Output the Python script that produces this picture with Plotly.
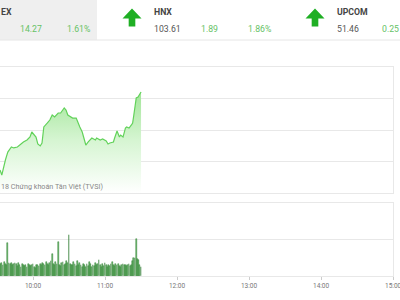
import plotly.graph_objects as go

DAY = "2018-01-01 "

# Header values
idx_names = ["EX", "HNX", "UPCOM"]
idx_values = ["", "103.61", "51.46"]
idx_changes = ["14.27", "1.89", "0.25"]
idx_pcts = ["1.61%", "1.86%", ""]

# Intraday index line
price_times = ["09:32:30", "09:34", "09:37", "09:39", "09:42", "09:44", "09:47", "09:49", "09:52", "09:55",
               "09:57:30", "09:59", "10:01", "10:02:30", "10:04", "10:06", "10:07:30", "10:09", "10:12", "10:14",
               "10:16", "10:18", "10:21", "10:23", "10:26", "10:27:30", "10:29", "10:31", "10:33", "10:36",
               "10:37:30", "10:39", "10:41", "10:42:30", "10:44", "10:46", "10:47:30", "10:49", "10:52", "10:53",
               "10:56", "10:58", "11:01", "11:02:30", "11:04", "11:07", "11:08", "11:10", "11:12", "11:13",
               "11:15", "11:17", "11:18", "11:20", "11:22", "11:23", "11:24", "11:25", "11:26", "11:27:30",
               "11:29", "11:30"]
price_values = [893.19, 892.71, 894.14, 894.90, 895.38, 895.29, 895.38, 895.57, 895.86, 896.05,
                896.33, 896.81, 896.52, 896.33, 895.67, 895.48, 895.76, 897.29, 897.67, 897.95,
                898.43, 898.24, 898.62, 898.62, 899.10, 898.90, 898.43, 898.24, 898.14, 898.14,
                897.67, 897.29, 896.81, 896.24, 895.57, 895.86, 896.05, 896.24, 896.05, 896.24,
                896.05, 896.14, 895.95, 895.67, 895.76, 895.86, 896.24, 896.90, 896.33, 896.52,
                896.33, 897.19, 897.29, 897.19, 897.48, 897.67, 898.43, 899.57, 900.05, 900.14,
                900.52, 900.62]

# Volume per minute (thousand shares), 09:33 .. 11:30
vol_start_minute = 33
volumes = [330, 360, 300, 380, 340, 310, 900, 350, 320, 360,
           300, 340, 370, 320, 280, 350, 310, 260, 330, 300,
           280, 310, 250, 340, 290, 270, 300, 320, 260, 230,
           290, 310, 270, 340, 300, 360, 320, 290, 380, 330,
           300, 350, 410, 600, 320, 290, 380, 340, 930, 310,
           280, 350, 390, 300, 330, 420, 360, 1120, 340, 300,
           290, 380, 330, 270, 420, 310, 360, 290, 250, 330,
           300, 260, 340, 280, 380, 320, 250, 300, 270, 350,
           300, 330, 440, 290, 260, 320, 280, 350, 300, 260,
           310, 280, 330, 380, 290, 270, 320, 300, 340, 280,
           260, 300, 330, 290, 310, 270, 300, 320, 280, 310,
           420, 480, 500, 1010, 470, 430, 300, 260]

watermark = "18 Chứng khoán Tân Việt (TVSI)"


def ts(t):
    return DAY + (t if t.count(":") == 2 else t + ":00")


vol_times = []
for i in range(len(volumes)):
    m = vol_start_minute + i
    vol_times.append(DAY + "%02d:%02d:00" % (9 + m // 60, m % 60))

W, H = 400, 300
GREEN_TXT = "#66c266"
FONT = "Roboto"

fig = go.Figure()

fig.add_trace(go.Scatter(
    x=[ts(t) for t in price_times], y=price_values,
    mode="lines", line=dict(color="#62d25a", width=1.2),
    fill="tozeroy",
    fillgradient=dict(type="vertical",
                      colorscale=[[0, "rgba(255,255,255,1)"], [0.5, "#d6f5d2"], [1, "#9ee494"]],
                      start=891, stop=901),
    hoverinfo="skip", xaxis="x", yaxis="y", showlegend=False))

fig.add_trace(go.Bar(
    x=vol_times, y=volumes, width=45000,
    marker=dict(color="#6cc06c", line=dict(color="#2e7d32", width=0.5)),
    hoverinfo="skip", xaxis="x2", yaxis="y2", showlegend=False))

xr = [DAY + "09:32:30", DAY + "15:00:10"]
grid = "#e8e8e8"
fig.update_layout(
    width=W, height=H, margin=dict(l=0, r=0, t=0, b=0),
    paper_bgcolor="white", plot_bgcolor="white",
    font=dict(family=FONT),
    xaxis=dict(domain=[0, 393.3 / W], range=xr, type="date", showticklabels=False,
               showgrid=False, showline=True, mirror=True, linecolor=grid, linewidth=1,
               zeroline=False, fixedrange=True, automargin=False),
    yaxis=dict(domain=[1 - 193 / H, 1 - 67 / H], range=[891, 903], dtick=3, tick0=0,
               side="right", showline=True, linecolor=grid, gridcolor=grid,
               showticklabels=False, automargin=False,
               zeroline=False, anchor="x"),
    xaxis2=dict(domain=[0, 393.3 / W], range=xr, type="date", anchor="y2",
                tickformat="%H:%M", dtick=3600000, tick0=DAY + "10:00:00",
                ticks="outside", ticklen=3, tickcolor="#cccccc",
                ticklabeloverflow="allow",
                tickfont=dict(size=6.5, color="#777777"), automargin=False,
                showgrid=False, showline=True, mirror=True, linecolor=grid, linewidth=1,
                zeroline=False),
    yaxis2=dict(domain=[1 - 276 / H, 1 - 203 / H], range=[0, 2000], dtick=1000,
                side="right", showline=True, linecolor=grid, gridcolor=grid,
                showticklabels=False, automargin=False,
                zeroline=False, anchor="x2"),
    bargap=0,
)

shapes = [
    dict(type="rect", xref="paper", yref="paper", x0=0, x1=97 / W, y0=1 - 40 / H, y1=1,
         fillcolor="#efefef", line=dict(width=0), layer="below"),
    dict(type="line", xref="paper", yref="paper", x0=0, x1=1, y0=1 - 40 / H, y1=1 - 40 / H,
         line=dict(color="#e6e6e6", width=1)),
]


def arrow(cx):
    pts = [(cx, 8.5), (cx + 9.5, 18.5), (cx + 3.3, 18.5), (cx + 3.3, 26.5), (cx - 3.3, 26.5),
           (cx - 3.3, 18.5), (cx - 9.5, 18.5)]
    d = "M " + " L ".join("%.4f %.4f" % (x / W, 1 - y / H) for x, y in pts) + " Z"
    return dict(type="path", xref="paper", yref="paper", path=d,
                fillcolor="#1faf24", line=dict(width=0))


shapes += [arrow(132), arrow(315)]
fig.update_layout(shapes=shapes)

ann = []


def txt(s, x, y, color, size=8.7, bold=False, anchor="left"):
    ann.append(dict(text=("<b>%s</b>" % s) if bold else s, x=x / W, y=1 - y / H,
                    xref="paper", yref="paper", xanchor=anchor, yanchor="middle",
                    showarrow=False, borderpad=0,
                    font=dict(family=FONT, size=size, color=color)))


group_x = [-28, 153, 336]
for i, gx in enumerate(group_x):
    if i == 0:
        txt(idx_names[i], 0, 11.5, "#444444", bold=True)
    else:
        txt(idx_names[i], gx, 11.5, "#444444", bold=True)
        txt(idx_values[i], gx, 29, "#555555")
    if i == 2:
        txt(idx_changes[i], W, 29, GREEN_TXT, anchor="right")
    else:
        txt(idx_changes[i], gx + 47, 29, GREEN_TXT)
    if idx_pcts[i]:
        txt(idx_pcts[i], gx + 94, 29, GREEN_TXT)

txt(watermark, 0, 186.5, "#888888", size=7.2)
fig.update_layout(annotations=ann)

fig.write_html("out.html")
